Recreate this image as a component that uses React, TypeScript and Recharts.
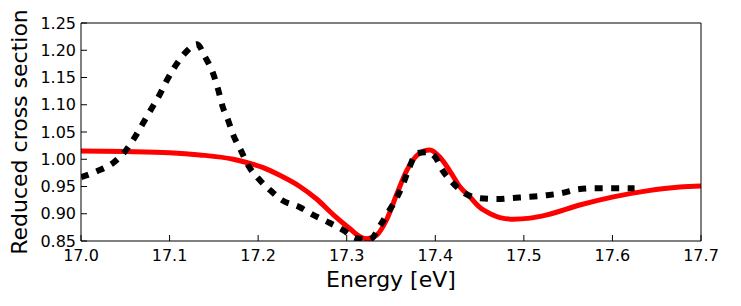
import React from 'react';
import { LineChart, Line, XAxis, YAxis } from 'recharts';

// measured spectrum (black dotted)
const expEnergy = [
  17.0, 17.018, 17.036, 17.051, 17.061, 17.07, 17.08, 17.088, 17.097, 17.106,
  17.117, 17.131, 17.14, 17.149, 17.155, 17.16, 17.166, 17.172, 17.18, 17.189,
  17.2, 17.213, 17.227, 17.247, 17.262, 17.281, 17.296, 17.311, 17.326, 17.338,
  17.347, 17.357, 17.364, 17.371, 17.379, 17.391, 17.4, 17.408, 17.419, 17.431,
  17.448, 17.47, 17.488, 17.507, 17.526, 17.543, 17.561, 17.583, 17.601, 17.625,
];
const expValues = [
  0.967, 0.978, 0.993, 1.017, 1.041, 1.066, 1.094, 1.116, 1.145, 1.17,
  1.194, 1.211, 1.188, 1.158, 1.127, 1.096, 1.072, 1.044, 1.018, 0.988,
  0.965, 0.944, 0.925, 0.912, 0.898, 0.883, 0.87, 0.855, 0.853, 0.879,
  0.903, 0.931, 0.956, 0.986, 1.011, 1.013, 1.004, 0.98, 0.958, 0.94,
  0.929, 0.927, 0.929, 0.931, 0.934, 0.938, 0.945, 0.947, 0.947, 0.947,
];

// calculated curve (red)
const calcEnergy = [
  17.0, 17.05, 17.1, 17.134, 17.172, 17.187, 17.205, 17.225, 17.247, 17.266,
  17.285, 17.304, 17.315, 17.323, 17.334, 17.345, 17.357, 17.368, 17.38, 17.394,
  17.405, 17.417, 17.428, 17.439, 17.45, 17.462, 17.473, 17.488, 17.507, 17.526,
  17.563, 17.601, 17.639, 17.676, 17.7,
];
const calcValues = [
  1.015, 1.014, 1.012, 1.008, 1.0, 0.994, 0.985, 0.97, 0.95, 0.927,
  0.898, 0.872, 0.858, 0.854, 0.861, 0.889, 0.938, 0.98, 1.008, 1.017,
  1.004, 0.977, 0.949, 0.931, 0.912, 0.9, 0.893, 0.89, 0.892, 0.898,
  0.916, 0.931, 0.942, 0.949, 0.951,
];

const xTicks = [17.0, 17.1, 17.2, 17.3, 17.4, 17.5, 17.6, 17.7];
const yTicks = [0.85, 0.9, 0.95, 1.0, 1.05, 1.1, 1.15, 1.2, 1.25];

const expData = expEnergy.map((x, i) => ({ x, y: expValues[i] }));
const calcData = calcEnergy.map((x, i) => ({ x, y: calcValues[i] }));

const font = 'DejaVu Sans';
const tickStyle = { fontFamily: font, fontSize: 16, fill: '#000' };

const XLabel = ({ viewBox }: any) => (
  <text
    x={viewBox.x + viewBox.width / 2}
    y={287}
    textAnchor="middle"
    fontFamily={font}
    fontSize={22}
    fill="#000"
  >
    Energy [eV]
  </text>
);

const YLabel = () => {
  const cx = 27;
  const cy = 132;
  return (
    <text
      x={cx}
      y={cy}
      transform={`rotate(-90 ${cx} ${cy})`}
      textAnchor="middle"
      fontFamily={font}
      fontSize={22}
      fill="#000"
    >
      Reduced cross section
    </text>
  );
};

export default function App() {
  return (
    <div style={{ position: 'absolute', left: 0, top: 0 }}>
      <LineChart
        width={741}
        height={306}
        margin={{ top: 22, right: 39, bottom: 64, left: 80 }}
      >
        <XAxis
          dataKey="x"
          type="number"
          domain={[17, 17.7]}
          ticks={xTicks}
          allowDataOverflow
          height={1}
          tickSize={-6}
          tickMargin={15}
          tick={tickStyle}
          tickFormatter={(v: number) => v.toFixed(1)}
          axisLine={{ stroke: '#000', strokeWidth: 1 }}
          tickLine={{ stroke: '#000' }}
          label={{ content: XLabel }}
        />
        <XAxis
          xAxisId="top"
          orientation="top"
          dataKey="x"
          type="number"
          domain={[17, 17.7]}
          ticks={xTicks}
          height={1}
          tickSize={-6}
          tick={false}
          axisLine={{ stroke: '#000', strokeWidth: 1 }}
          tickLine={{ stroke: '#000' }}
        />
        <YAxis
          type="number"
          domain={[0.85, 1.25]}
          ticks={yTicks}
          allowDataOverflow
          width={1}
          tickSize={-6}
          tickMargin={11}
          tick={tickStyle}
          tickFormatter={(v: number) => v.toFixed(2)}
          axisLine={{ stroke: '#000', strokeWidth: 1 }}
          tickLine={{ stroke: '#000' }}
          label={{ content: YLabel }}
        />
        <YAxis
          yAxisId="right"
          orientation="right"
          type="number"
          domain={[0.85, 1.25]}
          ticks={yTicks}
          width={1}
          tickSize={-6}
          tick={false}
          axisLine={{ stroke: '#000', strokeWidth: 1 }}
          tickLine={{ stroke: '#000' }}
        />
        <Line
          data={calcData}
          dataKey="y"
          type="monotone"
          stroke="#ff0000"
          strokeWidth={5}
          dot={false}
          activeDot={false}
          isAnimationActive={false}
        />
        <Line
          data={expData}
          dataKey="y"
          type="monotone"
          stroke="#000"
          strokeWidth={6}
          strokeDasharray="8 8.5"
          dot={false}
          activeDot={false}
          isAnimationActive={false}
        />
      </LineChart>
    </div>
  );
}
